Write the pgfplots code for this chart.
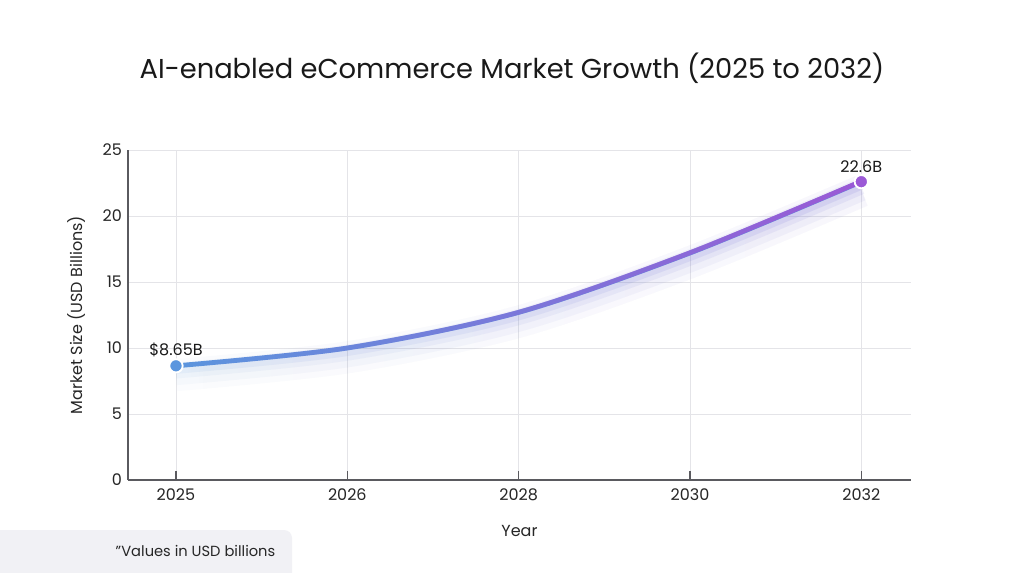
\documentclass[border=0pt]{standalone}
\usepackage{fontspec}
\setmainfont{Poppins}
\usepackage{pgfplots}
\pgfplotsset{compat=1.18}
\usetikzlibrary{fadings}
\definecolor{cblue}{RGB}{91,150,222}
\definecolor{cpurple}{RGB}{155,89,214}
\definecolor{gridc}{RGB}{228,228,232}
\definecolor{axc}{RGB}{90,90,95}
\definecolor{boxc}{RGB}{241,241,245}
\tikzfading[name=lr, left color=transparent!100, right color=transparent!0]
\pgfplotstableread{
x y
0 8.65
1 10.0
2 12.7
3 17.2
4 22.6
}\datatab
\begin{document}
\begin{tikzpicture}
\path[use as bounding box, fill=white] (0,0) rectangle (768pt,429pt);
\fill[boxc, rounded corners=6pt] (-10pt,-10pt) rectangle (219pt,31.5pt);
\node[anchor=east, font=\fontsize{11pt}{13pt}\selectfont, text=black!85] at (210pt,15.5pt) {”Values in USD billions};
\node[font=\fontsize{20.5pt}{24pt}\selectfont, text=black!90] at (384pt,378pt) {AI-enabled eCommerce Market Growth (2025 to 2032)};
\begin{axis}[
  at={(96pt,69pt)}, anchor=south west,
  scale only axis, width=587.25pt, height=247.5pt,
  xmin=-0.28, xmax=4.29, ymin=0, ymax=25,
  axis x line*=bottom, axis y line*=left,
  axis line style={draw=axc, line width=0.8pt},
  xtick={0,1,2,3,4}, xticklabels={2025,2026,2028,2030,2032},
  ytick={0,5,10,15,20,25},
  grid=major, grid style={draw=gridc, line width=0.6pt},
  tick align=inside, major tick length=7pt,
  xtick style={draw=axc, line width=0.8pt},
  ytick style={draw=none},
  /pgf/number format/assume math mode=true,
  ticklabel style={font=\fontsize{12pt}{14pt}\selectfont, text=black!85},
  yticklabel style={xshift=-1pt},
  xticklabel style={yshift=-3pt},
  xlabel={Year}, ylabel={Market Size (USD Billions)},
  label style={font=\fontsize{12pt}{14pt}\selectfont, text=black!85},
  xlabel style={at={(axis description cs:0.5,-0.155)}, anchor=center},
  ylabel style={at={(axis description cs:-0.066,0.5)}, anchor=center},
  clip=false,
]
% glow layers
\addplot[smooth, line width=24pt, draw=cblue, opacity=0.025, yshift=-7pt] table {\datatab};
\addplot[smooth, line width=24pt, draw=cpurple, opacity=0.03, yshift=-7pt, path fading=lr] table {\datatab};
\addplot[smooth, line width=17pt, draw=cblue, opacity=0.035, yshift=-6pt] table {\datatab};
\addplot[smooth, line width=17pt, draw=cpurple, opacity=0.04, yshift=-6pt, path fading=lr] table {\datatab};
\addplot[smooth, line width=11pt, draw=cblue, opacity=0.05, yshift=-4pt] table {\datatab};
\addplot[smooth, line width=11pt, draw=cpurple, opacity=0.06, yshift=-4pt, path fading=lr] table {\datatab};
\addplot[smooth, line width=7pt, draw=cblue, opacity=0.07, yshift=-2.5pt] table {\datatab};
\addplot[smooth, line width=7pt, draw=cpurple, opacity=0.08, yshift=-2.5pt, path fading=lr] table {\datatab};
% main line
\addplot[smooth, line width=3.6pt, draw=cblue] table {\datatab};
\addplot[smooth, line width=3.6pt, draw=cpurple, path fading=lr] table {\datatab};
% end markers
\addplot[only marks, mark=*, mark size=5pt, mark options={fill=cblue, draw=white, line width=1.4pt},
  nodes near coords, point meta=explicit symbolic,
  nodes near coords style={anchor=south, yshift=3pt, font=\fontsize{12pt}{14pt}\selectfont, text=black!90}]
  coordinates {(0,8.65) [\$8.65B]};
\addplot[only marks, mark=*, mark size=5pt, mark options={fill=cpurple, draw=white, line width=1.4pt},
  nodes near coords, point meta=explicit symbolic,
  nodes near coords style={anchor=south, yshift=3pt, font=\fontsize{12pt}{14pt}\selectfont, text=black!90}]
  coordinates {(4,22.6) [22.6B]};
\end{axis}
\end{tikzpicture}
\end{document}
